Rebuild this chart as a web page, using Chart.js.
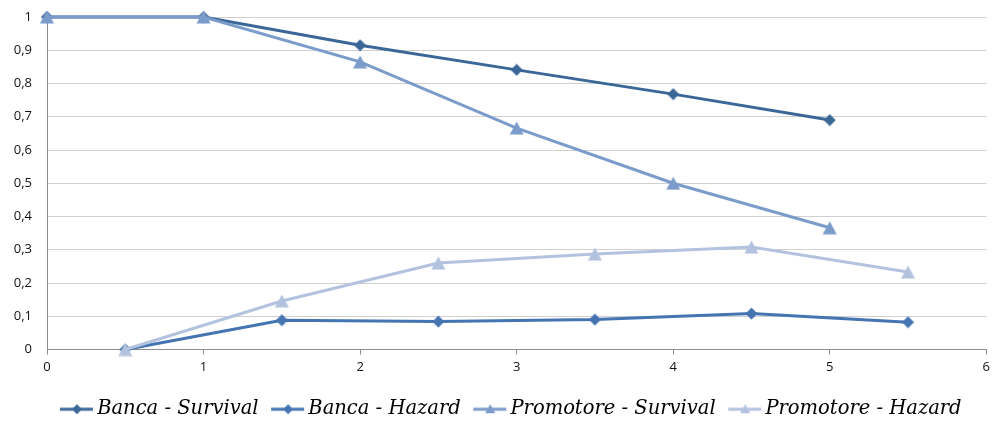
<!DOCTYPE html>
<html>
<head>
<meta charset="utf-8">
<script src="https://cdn.jsdelivr.net/npm/chart.js@4"></script>
<style>
  html, body { margin: 0; padding: 0; background: #fff; }
  #wrap { width: 995px; height: 423px; }
</style>
</head>
<body>
<div id="wrap"><canvas id="survivalChart" width="995" height="423"></canvas></div>
<script>
// periods for survival (whole years) and hazard (mid-year)
const survivalPeriods = [0, 1, 2, 3, 4, 5];
const hazardPeriods = [0.5, 1.5, 2.5, 3.5, 4.5, 5.5];

const bancaSurvival = [1, 1, 0.915, 0.841, 0.768, 0.69];
const bancaHazard = [0, 0.088, 0.084, 0.09, 0.108, 0.082];
const promotoreSurvival = [1, 1, 0.865, 0.666, 0.5, 0.366];
const promotoreHazard = [0, 0.146, 0.26, 0.287, 0.308, 0.233];

const seriesNames = ["Banca - Survival", "Banca - Hazard", "Promotore - Survival", "Promotore - Hazard"];
const xTicks = [0, 1, 2, 3, 4, 5, 6];

function toPoints(xs, ys) {
  return xs.map((x, i) => ({x: x, y: ys[i]}));
}

// marker images, centred on the point (chart.js triangle sits too high)
function markerImg(color, marker) {
  const c = document.createElement("canvas");
  const g = c.getContext("2d");
  if (marker === "diamond") {
    c.width = 13; c.height = 13;
    g.fillStyle = color;
    g.beginPath();
    g.moveTo(6.5, 0.5); g.lineTo(12.5, 6.5); g.lineTo(6.5, 12.5); g.lineTo(0.5, 6.5);
  } else {
    c.width = 15; c.height = 14;
    g.fillStyle = color;
    g.beginPath();
    g.moveTo(7.5, 0.5); g.lineTo(14.5, 13.5); g.lineTo(0.5, 13.5);
  }
  g.closePath(); g.fill();
  return c;
}

// line+marker swatch for the legend; left part transparent so it sits close to the text
function swatch(color, marker) {
  const c = document.createElement("canvas");
  c.width = 47; c.height = 14;
  const g = c.getContext("2d");
  const o = 13;
  g.strokeStyle = color;
  g.lineWidth = 3;
  g.beginPath(); g.moveTo(o, 7); g.lineTo(o + 33, 7); g.stroke();
  g.fillStyle = color;
  g.beginPath();
  if (marker === "diamond") {
    g.moveTo(o + 17, 2); g.lineTo(o + 22, 7); g.lineTo(o + 17, 12); g.lineTo(o + 12, 7);
  } else {
    g.moveTo(o + 17, 2); g.lineTo(o + 22, 11); g.lineTo(o + 12, 11);
  }
  g.closePath(); g.fill();
  return c;
}

const colors = ["#3b6798", "#4574b2", "#7b9bcb", "#b3c3df"];
const markers = ["diamond", "diamond", "triangle", "triangle"];
const swatches = colors.map((c, i) => swatch(c, markers[i]));
const markerImgs = colors.map((c, i) => markerImg(c, markers[i]));

function makeSet(i, xs, ys) {
  return {
    label: seriesNames[i],
    data: toPoints(xs, ys),
    borderColor: colors[i],
    backgroundColor: colors[i],
    borderWidth: 3,
    pointStyle: markerImgs[i],
    pointRadius: 7,
    pointBorderWidth: 0,
    pointHoverRadius: 7,
    tension: 0,
    clip: false,
    order: 3 - i
  };
}

// nudge the legend a bit to the right, like the original
const legendShift = {
  id: "legendShift",
  afterLayout(chart) {
    chart.legend.left += 13;
    chart.legend.right += 13;
  }
};

const ctx = document.getElementById("survivalChart").getContext("2d");
new Chart(ctx, {
  type: "line",
  data: {
    datasets: [
      makeSet(0, survivalPeriods, bancaSurvival),
      makeSet(1, hazardPeriods, bancaHazard),
      makeSet(2, survivalPeriods, promotoreSurvival),
      makeSet(3, hazardPeriods, promotoreHazard)
    ]
  },
  plugins: [legendShift],
  options: {
    responsive: false,
    animation: false,
    layout: {autoPadding: false, padding: {top: 17, right: 6, left: 0, bottom: -6}},
    plugins: {
      tooltip: {enabled: false},
      legend: {
        position: "bottom",
        labels: {
          usePointStyle: true,
          pointStyleWidth: 34,
          color: "#000",
          padding: 6,
          font: {family: "'DejaVu Serif'", style: "italic", size: 19.5},
          sort: (a, b) => a.datasetIndex - b.datasetIndex,
          generateLabels: function(chart) {
            const items = Chart.defaults.plugins.legend.labels.generateLabels(chart);
            items.forEach(it => { it.pointStyle = swatches[it.datasetIndex]; it.rotation = 0; });
            return items;
          }
        }
      }
    },
    scales: {
      x: {
        type: "linear",
        min: 0,
        max: 6,
        afterBuildTicks: axis => { axis.ticks = xTicks.map(v => ({value: v})); },
        afterFit: axis => { axis.height = 44; },
        ticks: {color: "#111", font: {family: "'Open Sans'", size: 13}, padding: 5, maxRotation: 0},
        grid: {drawOnChartArea: false, drawTicks: true, tickLength: 5, color: "#8c8c8c"},
        border: {color: "#8c8c8c", width: 1}
      },
      y: {
        min: 0,
        max: 1,
        afterFit: axis => { axis.width = 47; },
        ticks: {
          stepSize: 0.1,
          color: "#111",
          padding: 5,
          font: {family: "'Open Sans'", size: 13},
          callback: v => String(Math.round(v * 10) / 10).replace(".", ",")
        },
        // invisible tick marks just to keep the labels off the axis
        grid: {drawTicks: true, tickLength: 10, tickColor: "rgba(0,0,0,0)", color: "#d0d0d0"},
        border: {color: "#8c8c8c", width: 1}
      }
    }
  }
});
</script>
</body>
</html>
